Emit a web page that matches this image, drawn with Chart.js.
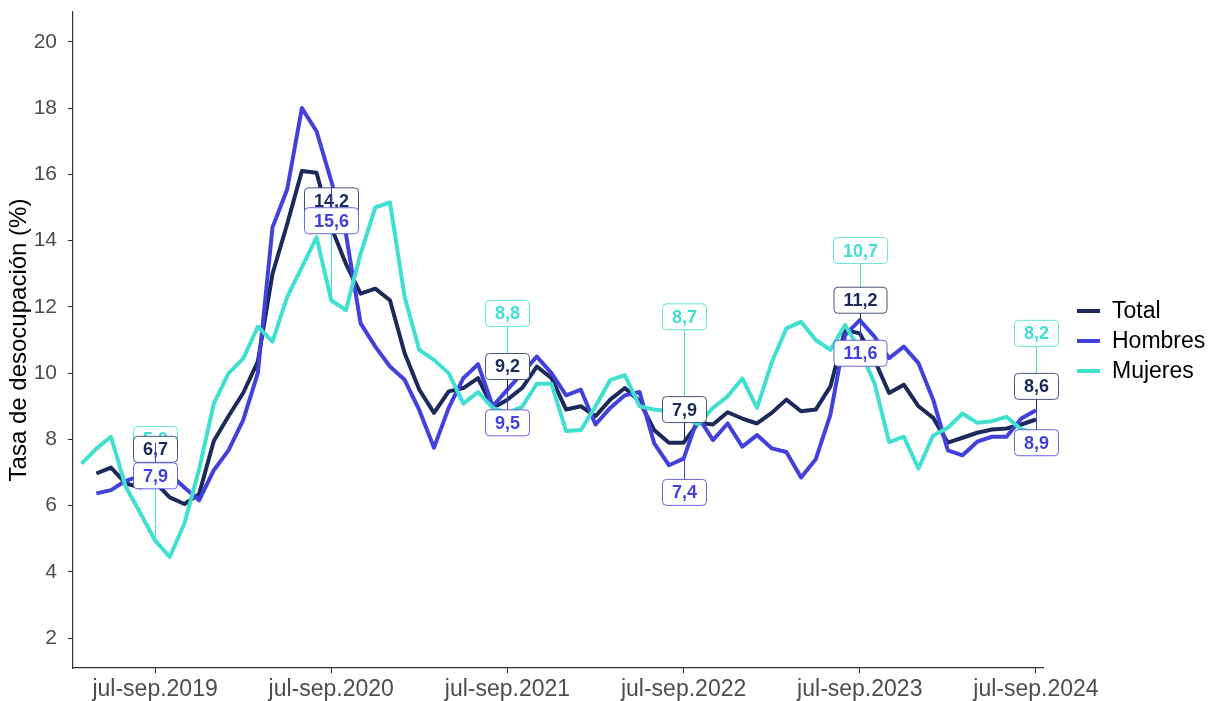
<!DOCTYPE html>
<html>
<head>
<meta charset="utf-8">
<script src="https://cdn.jsdelivr.net/npm/chart.js@4.4.1/dist/chart.umd.min.js"></script>
<style>
  html, body { margin: 0; padding: 0; background: #fff; }
  #wrap { width: 1209px; height: 701px; }
</style>
</head>
<body>
<div id="wrap"><canvas id="grafico"></canvas></div>
<script>
// trimestres móviles desde feb-abr.2019 hasta jul-sep.2024 (índice 0 = jul-sep.2019)
const meses = ['ene', 'feb', 'mar', 'abr', 'may', 'jun', 'jul', 'ago', 'sep', 'oct', 'nov', 'dic'];
const primerIndice = -5;
const categorias = [];
for (let i = primerIndice; i <= 60; i++) {
    const m = 2019 * 12 + 6 + i;          // mes de inicio del trimestre
    const fin = m + 2;
    categorias.push(meses[m % 12] + '-' + meses[fin % 12] + '.' + Math.floor(fin / 12));
}
const indices = categorias.map((c, k) => k + primerIndice);

const total = [null, 6.97, 7.15, 6.67, 6.55, 6.7, 6.25, 6.05, 6.35, 7.95, 8.7, 9.4, 10.35, 13.0, 14.5, 16.1, 16.05,
    14.4, 13.3, 12.4, 12.55, 12.2, 10.6, 9.5, 8.8, 9.45, 9.55, 9.85, 8.95, 9.2, 9.55, 10.2, 9.85, 8.9, 9.0, 8.7,
    9.2, 9.55, 9.15, 8.28, 7.9, 7.9, 8.5, 8.45, 8.82, 8.63, 8.48, 8.8, 9.2, 8.85, 8.9, 9.6, 11.3, 11.2, 10.4, 9.4,
    9.65, 9.0, 8.65, 7.9, 8.05, 8.2, 8.3, 8.33, 8.45, 8.6];
const hombres = [null, 6.37, 6.47, 6.75, 6.9, 7.0, 6.95, 6.55, 6.16, 7.07, 7.67, 8.58, 10.0, 14.4, 15.55, 18.0, 17.3,
    15.8, 14.2, 11.5, 10.8, 10.2, 9.8, 8.88, 7.75, 8.95, 9.85, 10.27, 9.0, 9.5, 10.0, 10.5, 10.0, 9.33, 9.5, 8.45,
    8.95, 9.33, 9.43, 7.88, 7.22, 7.42, 8.68, 7.98, 8.48, 7.78, 8.13, 7.73, 7.62, 6.85, 7.4, 8.75, 11.15, 11.6, 11.1,
    10.45, 10.8, 10.3, 9.2, 7.67, 7.52, 7.93, 8.08, 8.08, 8.63, 8.88];
const mujeres = [7.27, 7.72, 8.08, 6.57, 5.77, 4.95, 4.45, 5.46, 7.1, 9.08, 9.99, 10.44, 11.4, 10.95, 12.3, 13.2, 14.1,
    12.2, 11.9, 13.6, 15.0, 15.15, 12.3, 10.7, 10.4, 10.0, 9.08, 9.43, 8.95, 8.8, 8.98, 9.68, 9.68, 8.25, 8.28, 9.0,
    9.79, 9.94, 9.0, 8.9, 8.85, 8.7, 8.45, 8.95, 9.3, 9.84, 8.95, 10.32, 11.35, 11.55, 11.0, 10.7, 11.45, 10.7, 9.7,
    7.92, 8.08, 7.12, 8.12, 8.35, 8.78, 8.5, 8.55, 8.68, 8.3, 8.2];

// etiquetas de cada jul-sep
const etiquetasIdx = [0, 12, 24, 36, 48, 60];
const etiquetasTotal = [6.7, 14.2, 9.2, 7.9, 11.2, 8.6];
const etiquetasHombres = [7.9, 15.6, 9.5, 7.4, 11.6, 8.9];
const etiquetasMujeres = [5.0, 12.1, 8.8, 8.7, 10.7, 8.2];

const yTicks = [2, 4, 6, 8, 10, 12, 14, 16, 18, 20];

const colTotal = '#1b2a5a';
const colHombres = '#4341dc';
const colMujeres = '#40e0d0';
const fuente = "'Liberation Sans', Arial, sans-serif";

const serie = (arr) => arr.map((v, k) => ({ x: indices[k], y: v }));

const capas = [
    { valores: etiquetasMujeres, color: colMujeres, nudge: 3 },
    { valores: etiquetasTotal, color: colTotal, nudge: 1 },
    { valores: etiquetasHombres, color: colHombres, nudge: -1 }
];

const etiquetasPlugin = {
    id: 'etiquetas',
    afterDatasetsDraw(chart) {
        const ctx = chart.ctx;
        const xs = chart.scales.x, ys = chart.scales.y;
        ctx.save();
        ctx.font = 'bold 18px ' + fuente;
        ctx.textAlign = 'center';
        ctx.textBaseline = 'middle';
        capas.forEach(capa => {
            capa.valores.forEach((v, k) => {
                const px = Math.round(xs.getPixelForValue(etiquetasIdx[k])) + 0.5;
                const py = ys.getPixelForValue(v);
                const ly = ys.getPixelForValue(v + capa.nudge);
                // segmento
                ctx.strokeStyle = capa.color;
                ctx.lineWidth = 1;
                ctx.beginPath();
                ctx.moveTo(px, py);
                ctx.lineTo(px, ly);
                ctx.stroke();
                // caja
                const txt = v.toFixed(1).replace('.', ',');
                const w = ctx.measureText(txt).width + 19;
                const h = 26;
                ctx.beginPath();
                ctx.roundRect(px - w / 2, ly - h / 2, w, h, 4);
                ctx.fillStyle = '#fff';
                ctx.fill();
                ctx.globalAlpha = 0.8;
                ctx.stroke();
                ctx.globalAlpha = 1;
                ctx.fillStyle = capa.color;
                ctx.fillText(txt, px, ly + 1);
            });
        });
        ctx.restore();
    }
};

const leyendaPlugin = {
    id: 'leyenda',
    afterDraw(chart) {
        const ctx = chart.ctx;
        const items = [['Total', colTotal], ['Hombres', colHombres], ['Mujeres', colMujeres]];
        ctx.save();
        ctx.font = '23px ' + fuente;
        ctx.textBaseline = 'middle';
        items.forEach((it, k) => {
            const y = 311 + k * 30;
            ctx.fillStyle = it[1];
            ctx.fillRect(1077, y - 2, 23, 4);
            ctx.fillStyle = '#000';
            ctx.fillText(it[0], 1112, y + 1);
        });
        ctx.restore();
    }
};

new Chart(document.getElementById('grafico'), {
    type: 'line',
    data: {
        datasets: [
            { label: 'Total', data: serie(total), borderColor: colTotal, backgroundColor: colTotal, order: 3 },
            { label: 'Hombres', data: serie(hombres), borderColor: colHombres, backgroundColor: colHombres, order: 2 },
            { label: 'Mujeres', data: serie(mujeres), borderColor: colMujeres, backgroundColor: colMujeres, order: 1 }
        ]
    },
    options: {
        responsive: true,
        maintainAspectRatio: false,
        animation: false,
        layout: { padding: { top: 12, right: 166, bottom: 0, left: 0 } },
        elements: {
            line: { borderWidth: 4, tension: 0, borderJoinStyle: 'round', borderCapStyle: 'butt' },
            point: { radius: 0, hoverRadius: 0 }
        },
        scales: {
            x: {
                type: 'linear',
                min: -5.59,
                max: 60.48,
                afterBuildTicks: (axis) => { axis.ticks = etiquetasIdx.map(v => ({ value: v })); },
                afterFit: (axis) => { axis.height = 33; axis.paddingLeft = 0; axis.paddingRight = 0; },
                ticks: {
                    autoSkip: false,
                    maxRotation: 0,
                    padding: 3,
                    color: '#4d4d4d',
                    font: { family: fuente, size: 23 },
                    callback: (v) => categorias[v - primerIndice]
                },
                grid: { drawOnChartArea: false, drawTicks: true, tickLength: 5, tickColor: '#333', tickWidth: 1.1 },
                border: { display: true, color: '#333', width: 1.2 }
            },
            y: {
                min: 1.1,
                max: 20.9,
                afterBuildTicks: (axis) => { axis.ticks = yTicks.map(v => ({ value: v })); },
                afterFit: (axis) => { axis.width = 73; axis.paddingTop = 0; axis.paddingBottom = 0; },
                ticks: {
                    padding: 11,
                    color: '#4d4d4d',
                    font: { family: fuente, size: 21 },
                    callback: (v) => v
                },
                title: {
                    display: true,
                    text: 'Tasa de desocupación (%)',
                    color: '#000',
                    font: { family: fuente, size: 24 },
                    padding: { top: 5, bottom: 0 }
                },
                grid: { drawOnChartArea: false, drawTicks: true, tickLength: 5, tickColor: '#333', tickWidth: 1.1 },
                border: { display: true, color: '#333', width: 1.2 }
            }
        },
        plugins: {
            legend: { display: false },
            tooltip: { enabled: false }
        }
    },
    plugins: [etiquetasPlugin, leyendaPlugin]
});
</script>
</body>
</html>
